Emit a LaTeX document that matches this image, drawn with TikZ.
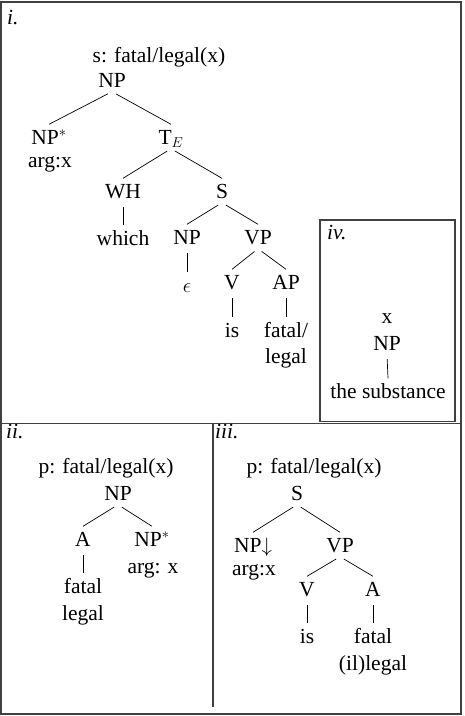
\documentclass[tikz,border=0pt]{standalone}
\usepackage{fontspec}
\setmainfont{Liberation Serif}
\begin{document}
\begin{tikzpicture}[x=1pt,y=-1pt,
  font=\fontsize{21.5pt}{26pt}\selectfont,
  cat/.style={anchor=base, inner xsep=1pt, inner ysep=4.5pt, text height=15pt, text depth=0pt},
  lbl/.style={anchor=base, inner sep=0pt},
  num/.style={anchor=base west, inner sep=0pt, font=\fontsize{21.5pt}{26pt}\selectfont\itshape},
  br/.style={line width=0.7pt, shorten <=4.5pt},
  frame/.style={line width=1.3pt, draw=black!75}]
\useasboundingbox (0,0) rectangle (464,716);
% frames
\draw[frame] (1,2) rectangle (461,714);
\draw[frame] (1,423.5) -- (461,423.5);
\draw[frame] (213,423.5) -- (213,707);
\draw[frame] (320,220) rectangle (455,421.5);

% ---------- i ----------
\node[num] (lab-i) at (7,24) {i.};
\node[lbl] (i-sem) at (159,62) {s: fatal/legal(x)};
\node[cat] (i-np) at (112,87) {NP};
\node[cat] (i-npstar) at (49,144) {NP$^*$};
\node[lbl] (i-arg) at (50,167) {arg:x};
\node[cat] (i-te) at (171,144) {T$_E$};
\node[cat] (i-wh) at (123,198) {WH};
\node[cat] (i-s) at (222,198) {S};
\node[cat] (i-which) at (123,245) {which};
\node[cat] (i-np2) at (187,244) {NP};
\node[cat] (i-vp) at (258,244) {VP};
\node[cat] (i-eps) at (187,292) {$\epsilon$};
\node[cat] (i-v) at (232,289) {V};
\node[cat] (i-ap) at (286,289) {AP};
\node[cat] (i-is) at (232,337) {is};
\node[cat] (i-fatal) at (286,337) {fatal/};
\node[lbl] (i-legal) at (286,363) {legal};
\draw[br] (i-np.south) -- (i-npstar.north);
\draw[br] (i-np.south) -- (i-te.north);
\draw[br] (i-te.south) -- (i-wh.north);
\draw[br] (i-te.south) -- (i-s.north);
\draw[br] (i-wh.south) -- (i-which.north);
\draw[br] (i-s.south) -- (i-np2.north);
\draw[br] (i-s.south) -- (i-vp.north);
\draw[br] (i-np2.south) -- (i-eps.north);
\draw[br] (i-vp.south) -- (i-v.north);
\draw[br] (i-vp.south) -- (i-ap.north);
\draw[br] (i-v.south) -- (i-is.north);
\draw[br] (i-ap.south) -- (i-fatal.north);

% ---------- iv ----------
\node[num] (lab-iv) at (327,239) {iv.};
\node[lbl] (iv-x) at (387,323) {x};
\node[cat] (iv-np) at (387,350) {NP};
\node[cat] (iv-sub) at (388,398) {the substance};
\draw[br] (iv-np.south) -- (iv-sub.north);

% ---------- ii ----------
\node[num] (lab-ii) at (6,438) {ii.};
\node[lbl] (ii-sem) at (106,473) {p: fatal/legal(x)};
\node[cat] (ii-np) at (118,500) {NP};
\node[cat] (ii-a) at (83,546) {A};
\node[cat] (ii-npstar) at (152,546) {NP$^*$};
\node[lbl] (ii-arg) at (153,573) {arg: x};
\node[cat] (ii-fatal) at (83,593) {fatal};
\node[lbl] (ii-legal) at (83,620) {legal};
\draw[br] (ii-np.south) -- (ii-a.north);
\draw[br] (ii-np.south) -- (ii-npstar.north);
\draw[br] (ii-a.south) -- (ii-fatal.north);

% ---------- iii ----------
\node[num] (lab-iii) at (215,438) {iii.};
\node[lbl] (iii-sem) at (314,473) {p: fatal/legal(x)};
\node[cat] (iii-s) at (297,500) {S};
\node[cat] (iii-np) at (253,552) {NP$\downarrow$};
\node[cat] (iii-vp) at (340,552) {VP};
\node[lbl] (iii-arg) at (254,575) {arg:x};
\node[cat] (iii-v) at (307,596) {V};
\node[cat] (iii-a) at (373,596) {A};
\node[cat] (iii-is) at (307,643) {is};
\node[cat] (iii-fatal) at (373,643) {fatal};
\node[lbl] (iii-legal) at (373,670) {(il)legal};
\draw[br] (iii-s.south) -- (iii-np.north);
\draw[br] (iii-s.south) -- (iii-vp.north);
\draw[br] (iii-vp.south) -- (iii-v.north);
\draw[br] (iii-vp.south) -- (iii-a.north);
\draw[br] (iii-v.south) -- (iii-is.north);
\draw[br] (iii-a.south) -- (iii-fatal.north);
\end{tikzpicture}
\end{document}
